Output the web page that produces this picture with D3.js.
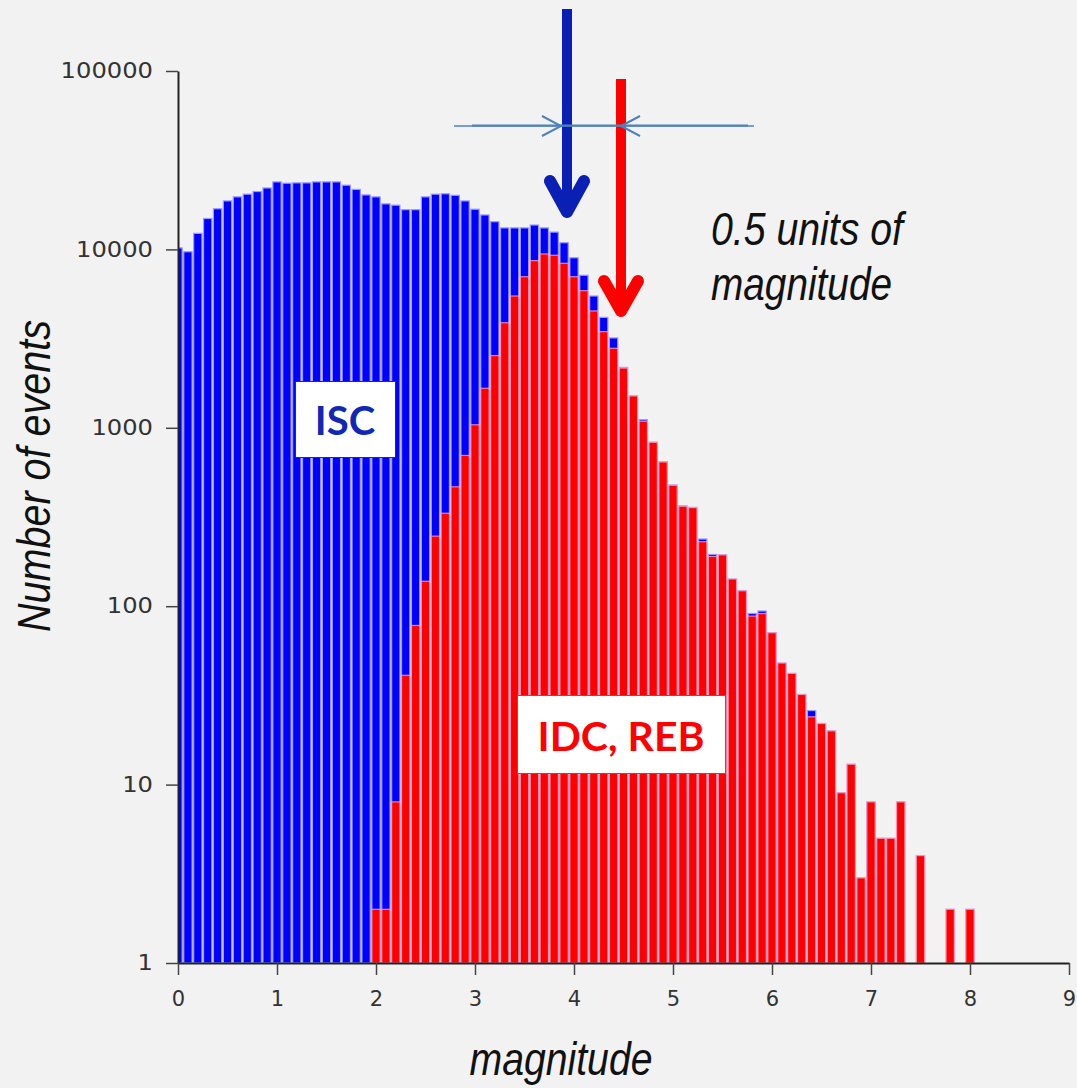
<!DOCTYPE html>
<html><head><meta charset="utf-8">
<script src="https://cdn.jsdelivr.net/npm/d3@7"></script>
<style>body{margin:0;background:#f2f2f2;} svg{display:block}</style>
</head><body><svg id="c" width="1077" height="1088"></svg>
<script>
// magnitude bins (bar centres)
const mags = [0,0.1,0.2,0.3,0.4,0.5,0.6,0.7,0.8,0.9,1,1.1,1.2,1.3,1.4,1.5,1.6,1.7,1.8,1.9,2,2.1,2.2,2.3,2.4,2.5,2.6,2.7,2.8,2.9,3,3.1,3.2,3.3,3.4,3.5,3.6,3.7,3.8,3.9,4,4.1,4.2,4.3,4.4,4.5,4.6,4.7,4.8,4.9,5,5.1,5.2,5.3,5.4,5.5,5.6,5.7,5.8,5.9,6,6.1,6.2,6.3,6.4,6.5,6.6,6.7,6.8,6.9,7,7.1,7.2,7.3,7.4,7.5,7.6,7.7,7.8,7.9,8];
// ISC counts (blue)
const isc = [10200,9700,12300,14900,16900,18700,19700,20400,21100,22100,
  23900,23500,23600,23600,23900,23900,23900,22900,21700,20200,
  19700,18000,17700,16700,16700,19700,20400,20500,20100,18700,
  16800,15600,14300,13200,13200,13200,13700,13200,12500,10900,
  8980,7160,5480,4160,3190,2180,1510,1110,830,645,
  478,365,358,238,195,194,142,122,91,94,
  71,48,42,32,26,22,20,9,13,3,
  8,5,5,8,0,4,0,0,2,0,
  2];
// IDC, REB counts (red)
const idc = [0,0,0,0,0,0,0,0,0,0,
  0,0,0,0,0,0,0,0,0,0,
  2,2,8,41,78,138,247,332,467,700,
  1040,1665,2540,3880,5480,7030,8650,9430,9270,8360,
  7030,5870,4520,3460,2790,2160,1508,1088,829,643,
  476,363,357,230,190,194,142,122,88,91,
  71,48,42,32,24,22,20,9,13,3,
  8,5,5,8,0,4,0,0,2,0,
  2];
const xTicks = [0,1,2,3,4,5,6,7,8,9];
const yTicks = [1,10,100,1000,10000,100000];
const binW = 0.1;

const svg = d3.select('#c');
svg.append('rect').attr('width',1077).attr('height',1088).attr('fill','#f2f2f2');

const x = d3.scaleLinear().domain([0,9]).range([178,1069]);
const y = d3.scaleLog().domain([1,100000]).range([963,71]);

svg.append('defs').append('clipPath').attr('id','plot')
  .append('rect').attr('x',x(0)).attr('y',0).attr('width',x(9)-x(0)).attr('height',y(1));
const g = svg.append('g').attr('clip-path','url(#plot)');

function drawBars(vals, fill, stroke){
  g.append('g').selectAll('rect')
    .data(mags.map((m,i)=>({m, v: vals[i]})).filter(d=>d.v>0))
    .join('rect')
    .attr('x', d=>x(d.m-binW/2)+0.8)
    .attr('width', x(binW)-x(0)-1.6)
    .attr('y', d=>y(d.v))
    .attr('height', d=>y(1)-y(d.v))
    .attr('fill', fill)
    .attr('stroke', stroke)
    .attr('stroke-width', 1.2);
}
drawBars(isc, '#0000ff', '#9a9aff');
drawBars(idc, '#ff0000', 'rgba(255,170,200,0.75)');

// axes
const yAxis = d3.axisLeft(y).tickValues(yTicks).tickFormat(d3.format('d'))
  .tickSize(12).tickPadding(13).tickSizeOuter(0);
const xAxis = d3.axisBottom(x).tickValues(xTicks).tickFormat(d3.format('d'))
  .tickSize(12).tickPadding(16).tickSizeOuter(0);
const ya = svg.append('g').attr('transform',`translate(${x(0)},0)`).call(yAxis);
const xa = svg.append('g').attr('transform',`translate(0,${y(1)})`).call(xAxis);
[ya, xa].forEach(a=>{
  a.select('.domain').attr('stroke','#222').attr('stroke-width',2);
  a.selectAll('.tick line').attr('stroke','#444').attr('stroke-width',1.5);
  a.selectAll('.tick text').attr('font-family','DejaVu Sans, sans-serif')
    .attr('font-size',21).attr('fill','#333');
});
ya.selectAll('.tick text').each(function(d){
  const s = String(d);
  d3.select(this).attr('textLength', s.length*15.4).attr('lengthAdjust','spacingAndGlyphs');
});

// axis titles
const narrow = '"Liberation Sans Narrow", "Arial Narrow", "Liberation Sans", Arial, sans-serif';
svg.append('text').attr('transform','translate(50,476) rotate(-90)')
  .attr('text-anchor','middle').attr('font-family',narrow).attr('font-style','italic')
  .attr('font-size',47).attr('fill','#111')
  .attr('textLength',312).attr('lengthAdjust','spacingAndGlyphs')
  .text('Number of events');
svg.append('text').attr('x',561).attr('y',1075)
  .attr('text-anchor','middle').attr('font-family',narrow).attr('font-style','italic')
  .attr('font-size',47).attr('fill','#111')
  .attr('textLength',183).attr('lengthAdjust','spacingAndGlyphs')
  .text('magnitude');

// annotation: 0.5 units of magnitude
svg.append('text').attr('x',711).attr('y',245)
  .attr('font-family',narrow).attr('font-style','italic').attr('font-size',47).attr('fill','#111')
  .attr('textLength',192).attr('lengthAdjust','spacingAndGlyphs')
  .text('0.5 units of');
svg.append('text').attr('x',711).attr('y',300)
  .attr('font-family',narrow).attr('font-style','italic').attr('font-size',47).attr('fill','#111')
  .attr('textLength',181).attr('lengthAdjust','spacingAndGlyphs')
  .text('magnitude');

// arrows
const ann = svg.append('g');
ann.append('line').attr('x1',567).attr('x2',567).attr('y1',9).attr('y2',206)
  .attr('stroke','#0a1fb4').attr('stroke-width',10);
ann.append('polyline').attr('points','550,181 567,212 584,181')
  .attr('fill','none').attr('stroke','#0a1fb4').attr('stroke-width',12)
  .attr('stroke-linecap','round').attr('stroke-linejoin','round');
ann.append('line').attr('x1',621).attr('x2',621).attr('y1',79).attr('y2',305)
  .attr('stroke','#ff0000').attr('stroke-width',10);
ann.append('polyline').attr('points','604,281 621,311 638,281')
  .attr('fill','none').attr('stroke','#ff0000').attr('stroke-width',12)
  .attr('stroke-linecap','round').attr('stroke-linejoin','round');

// horizontal dimension line
ann.append('line').attr('x1',454).attr('x2',754).attr('y1',126).attr('y2',126)
  .attr('stroke','#4f81bd').attr('stroke-width',1.5);
ann.append('line').attr('x1',472).attr('x2',748).attr('y1',125.5).attr('y2',125.5)
  .attr('stroke','#4f81bd').attr('stroke-width',2);
ann.append('polyline').attr('points','542,116 561,126 542,136')
  .attr('fill','none').attr('stroke','#4f81bd').attr('stroke-width',2);
ann.append('polyline').attr('points','640,116 621,126 640,136')
  .attr('fill','none').attr('stroke','#4f81bd').attr('stroke-width',2);

// labels in boxes
const bold = 'Lato, "Open Sans", "Noto Sans", sans-serif';
svg.append('rect').attr('x',295.5).attr('y',381.5).attr('width',100).attr('height',76)
  .attr('fill','#ffffff').attr('stroke','#1a2aa0').attr('stroke-width',1);
svg.append('text').attr('x',345).attr('y',435).attr('text-anchor','middle')
  .attr('font-family',bold).attr('font-weight','bold').attr('font-size',40)
  .attr('fill','#1028b8').text('ISC');
svg.append('rect').attr('x',517.5).attr('y',695.5).attr('width',208).attr('height',78)
  .attr('fill','#ffffff').attr('stroke','#e03030').attr('stroke-width',1);
svg.append('text').attr('x',621).attr('y',751).attr('text-anchor','middle')
  .attr('font-family',bold).attr('font-weight','bold').attr('font-size',40)
  .attr('fill','#ff0000').attr('textLength',167).attr('lengthAdjust','spacingAndGlyphs')
  .text('IDC, REB');
</script></body></html>
